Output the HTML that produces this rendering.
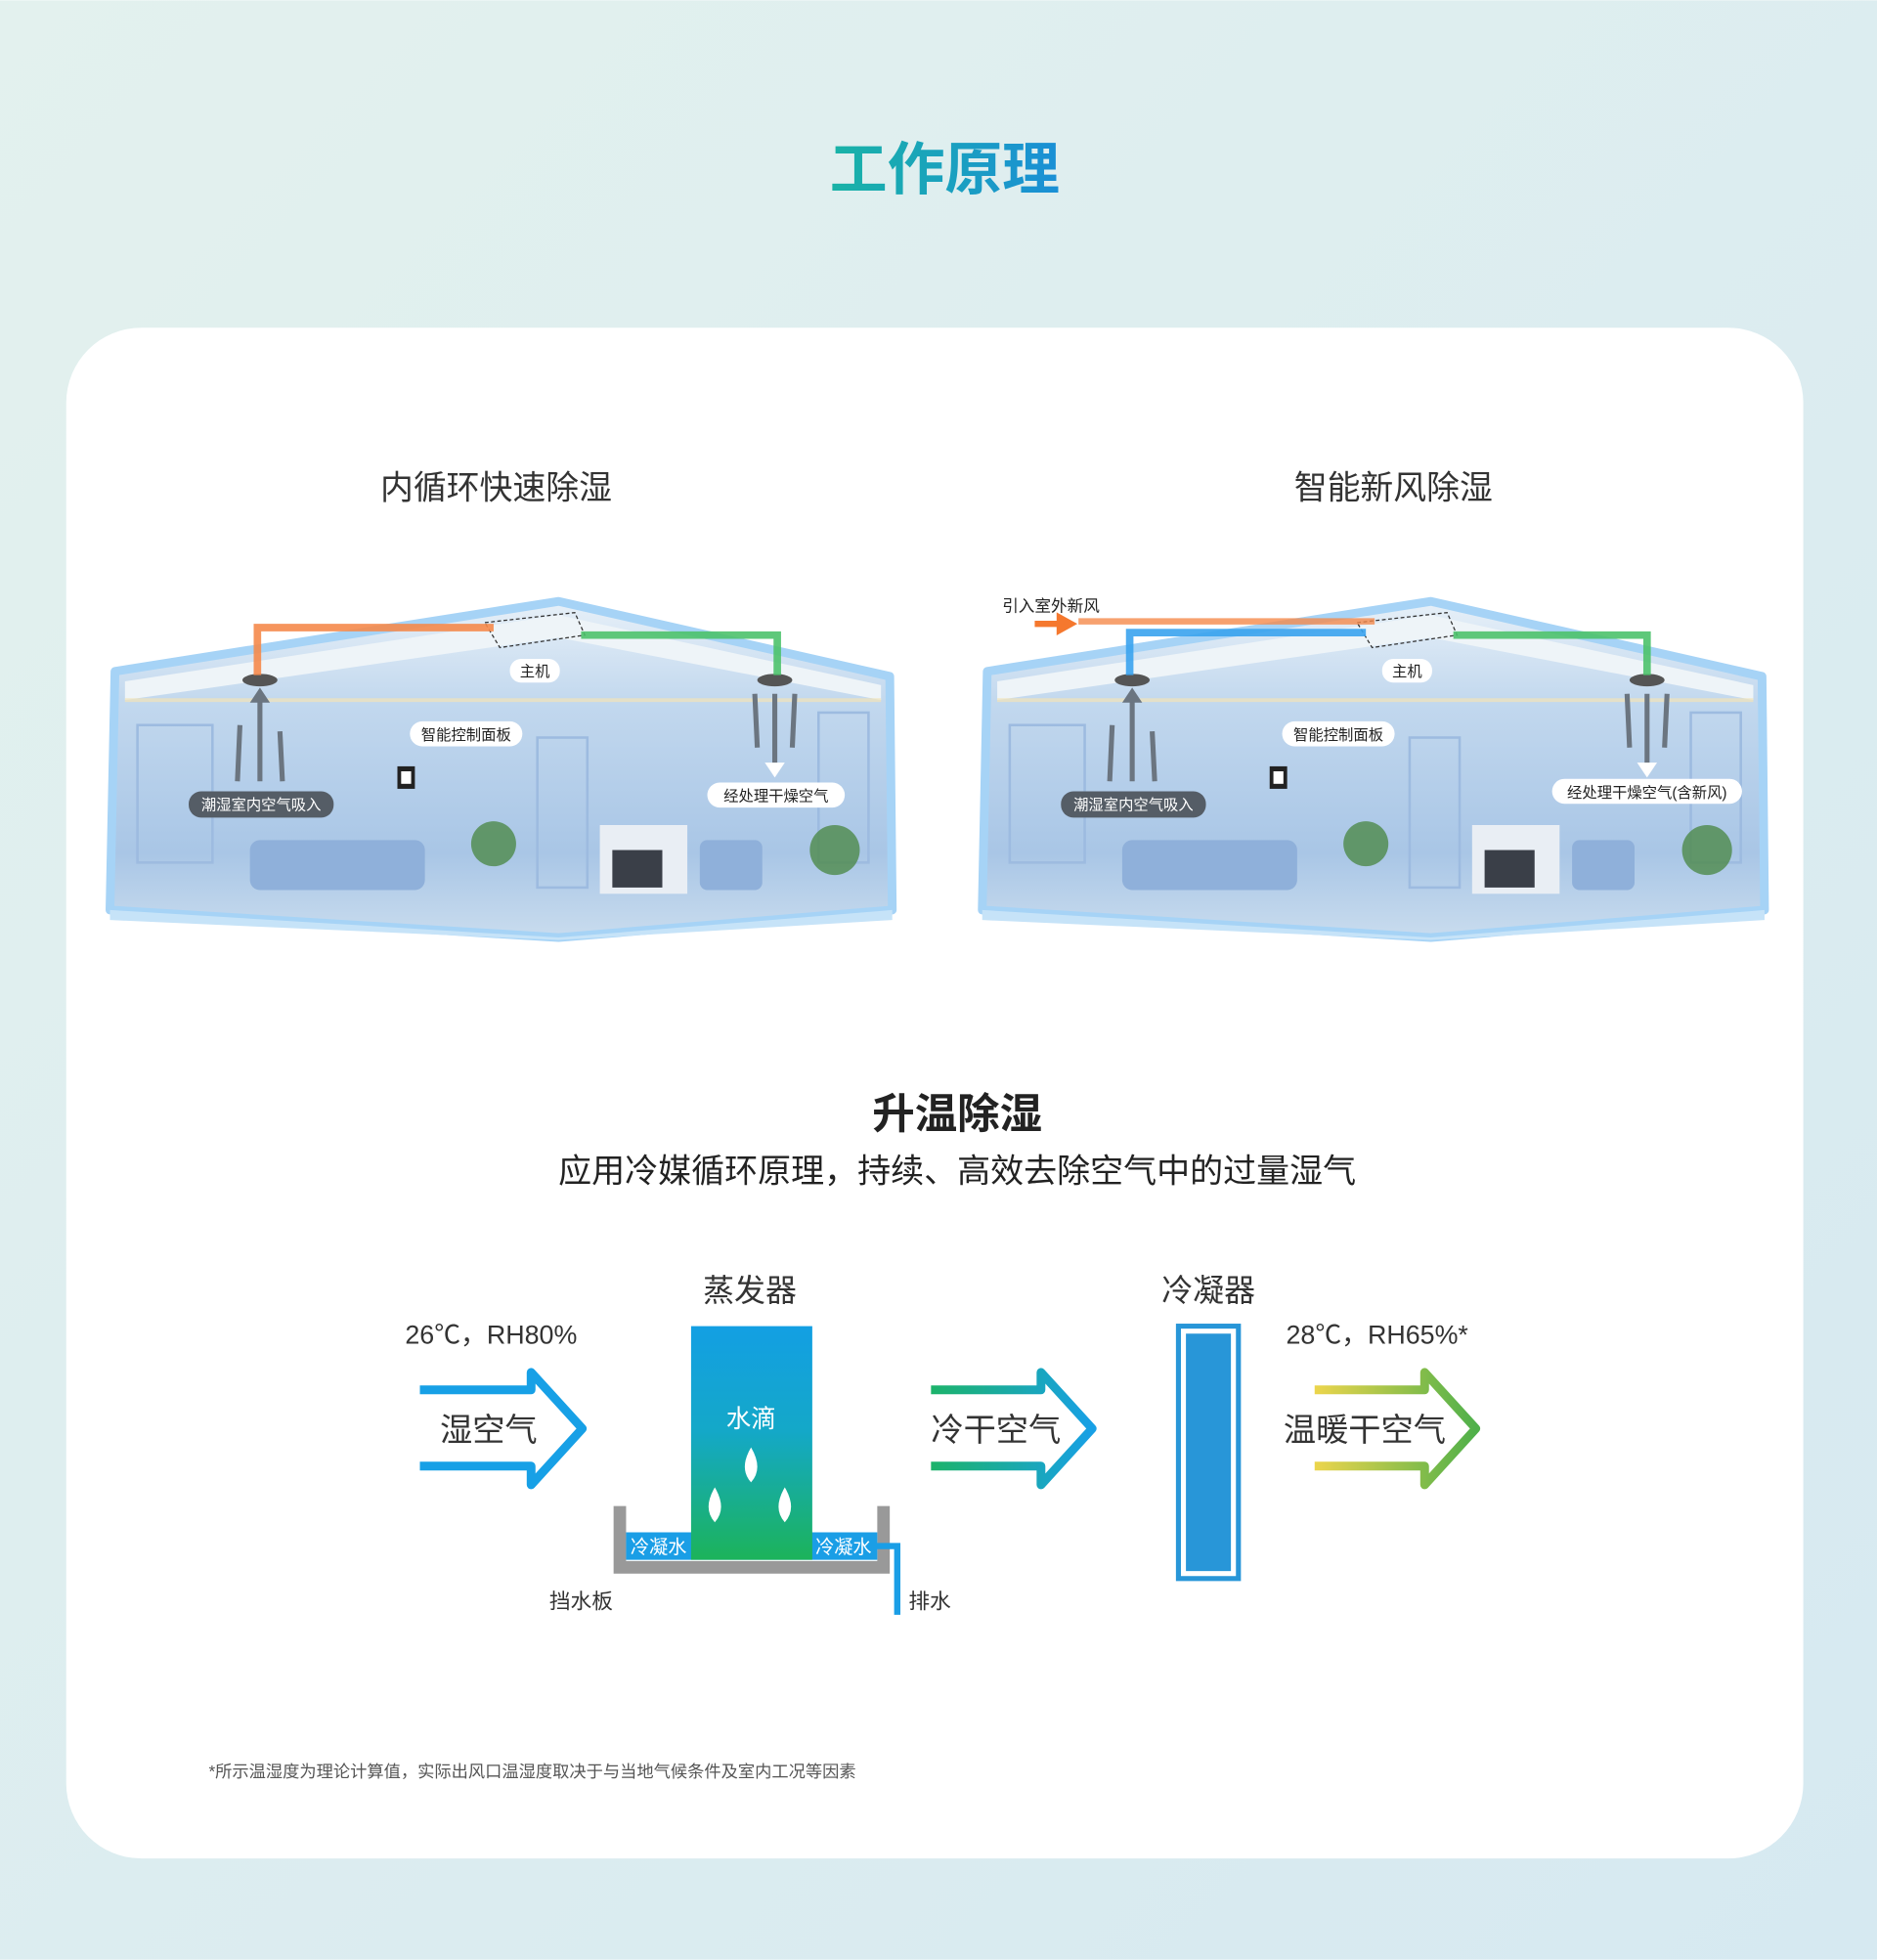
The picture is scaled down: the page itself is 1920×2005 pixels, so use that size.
<!DOCTYPE html>
<html><head><meta charset="utf-8"><style>
html,body{margin:0;padding:0;width:1920px;height:2005px;overflow:hidden}
svg{display:block}
text{font-family:"Liberation Sans","Noto Sans CJK SC",sans-serif}
</style></head><body>
<svg width="1920" height="2005" viewBox="0 0 1502 1568" xmlns="http://www.w3.org/2000/svg">
<defs>
<linearGradient id="bg" x1="0" y1="0" x2="1" y2="1"><stop offset="0" stop-color="#e3f1ee"/><stop offset="1" stop-color="#d6e9f1"/></linearGradient>
<linearGradient id="ttl" x1="0" x2="1"><stop offset="0" stop-color="#19b3a6"/><stop offset="1" stop-color="#1a8fd6"/></linearGradient>
<linearGradient id="evap" x1="0" y1="0" x2="0" y2="1"><stop offset="0" stop-color="#139fe3"/><stop offset="0.45" stop-color="#14a8c8"/><stop offset="1" stop-color="#1cb35a"/></linearGradient>
<linearGradient id="a2" x1="0" x2="1"><stop offset="0" stop-color="#1cb36a"/><stop offset="1" stop-color="#18a0e6"/></linearGradient>
<linearGradient id="a3" x1="0" x2="1"><stop offset="0" stop-color="#ecd54c"/><stop offset="1" stop-color="#4fb04a"/></linearGradient>
<linearGradient id="room" x1="0" y1="0" x2="0" y2="1"><stop offset="0" stop-color="#e7f0f8"/><stop offset="0.3" stop-color="#c2d8ee"/><stop offset="0.75" stop-color="#a9c6e6"/><stop offset="1" stop-color="#c9dcee"/></linearGradient>
<g id="roomg">
 <polygon points="92,537 447,481 712,541 714,728 447,750 88,728" fill="url(#room)" stroke="#a6d3f6" stroke-width="7" stroke-linejoin="round"/>
 <polygon points="100,545 447,492 705,548 705,560 447,510 100,560" fill="#eef4f8"/>
 <line x1="100" y1="560" x2="705" y2="560" stroke="#f3e4b8" stroke-width="3" opacity="0.7"/>
 <rect x="110" y="580" width="60" height="110" fill="none" stroke="#9dbbe0" stroke-width="2"/>
 <rect x="430" y="590" width="40" height="120" fill="none" stroke="#9dbbe0" stroke-width="2"/>
 <rect x="655" y="570" width="40" height="120" fill="none" stroke="#9dbbe0" stroke-width="2"/>
 <rect x="200" y="672" width="140" height="40" rx="8" fill="#8fb0da"/>
 <rect x="480" y="660" width="70" height="55" fill="#e9eef4"/>
 <rect x="490" y="680" width="40" height="30" fill="#3a3f48"/>
 <rect x="560" y="672" width="50" height="40" rx="6" fill="#8fb0da"/>
 <circle cx="668" cy="680" r="20" fill="#4e8a4a" opacity="0.8"/>
 <circle cx="395" cy="675" r="18" fill="#4e8a4a" opacity="0.8"/>
 <polygon points="88,728 447,750 714,728 714,736 447,752 88,736" fill="#c6e3f8"/>
 <ellipse cx="208" cy="544" rx="14" ry="5" fill="#555"/>
 <ellipse cx="620" cy="544" rx="14" ry="5" fill="#555"/>
 <g stroke="#6b7580" stroke-width="4" fill="#6b7580">
  <line x1="208" y1="625" x2="208" y2="560"/><line x1="190" y1="625" x2="192" y2="580"/><line x1="226" y1="625" x2="224" y2="585"/>
  <line x1="620" y1="555" x2="620" y2="612"/><line x1="604" y1="555" x2="606" y2="598"/><line x1="636" y1="555" x2="634" y2="598"/>
 </g>
 <polygon points="200,562 208,550 216,562" fill="#6b7580"/><polygon points="612,610 620,622 628,610" fill="#fff"/>
 <rect x="318" y="613" width="14" height="18" fill="#222"/><rect x="321" y="617" width="8" height="10" fill="#fff"/>
 <polygon points="388,498 460,490 468,508 400,518" fill="none" stroke="#333" stroke-dasharray="3,2"/>
 <rect x="408" y="527" width="40" height="19" rx="9" fill="#fff"/>
 <text x="428" y="541" font-size="12" text-anchor="middle" fill="#222">主机</text>
 <rect x="328" y="577" width="90" height="20" rx="10" fill="#fff"/>
 <text x="373" y="592" font-size="12" text-anchor="middle" fill="#222">智能控制面板</text>
 <rect x="151" y="633" width="116" height="21" rx="10" fill="#555d66"/>
 <text x="209" y="648" font-size="12" text-anchor="middle" fill="#fff">潮湿室内空气吸入</text>
</g>
</defs>
<rect width="1502" height="1568" fill="url(#bg)"/>
<text x="756" y="151" font-size="46" font-weight="bold" text-anchor="middle" fill="url(#ttl)">工作原理</text>
<rect x="53" y="262" width="1390" height="1225" rx="60" fill="#fff"/>
<text x="397" y="399" font-size="26.5" text-anchor="middle" fill="#333">内循环快速除湿</text>
<text x="1115" y="399" font-size="26.5" text-anchor="middle" fill="#333">智能新风除湿</text>

<use href="#roomg"/>
<path d="M206,540 V502 H395" fill="none" stroke="#f58a4b" stroke-width="6" opacity="0.9"/>
<path d="M465,508 H622 V540" fill="none" stroke="#4cc26b" stroke-width="6" opacity="0.9"/>
<rect x="566" y="626" width="110" height="20" rx="10" fill="#fff"/>
<text x="621" y="641" font-size="12" text-anchor="middle" fill="#222">经处理干燥空气</text>

<g transform="translate(698,0)"><use href="#roomg"/></g>
<path d="M904,540 V506 H1093" fill="none" stroke="#3aa3ee" stroke-width="6" opacity="0.9"/>
<path d="M863,497 H1100" fill="none" stroke="#f58a4b" stroke-width="5" opacity="0.8"/>
<path d="M1163,508 H1318 V540" fill="none" stroke="#4cc26b" stroke-width="6" opacity="0.9"/>
<path d="M828,499 H848 V494 L857,499 L848,504 V499" fill="#f5782e" stroke="#f5782e" stroke-width="5"/>
<text x="802" y="489" font-size="13" fill="#222">引入室外新风</text>
<rect x="1242" y="623" width="152" height="20" rx="10" fill="#fff"/>
<text x="1318" y="638" font-size="12" text-anchor="middle" fill="#222">经处理干燥空气(含新风)</text>

<text x="766" y="903" font-size="34" font-weight="bold" text-anchor="middle" fill="#222">升温除湿</text>
<text x="766" y="946" font-size="26.6" text-anchor="middle" fill="#222">应用冷媒循环原理，持续、高效去除空气中的过量湿气</text>

<text x="600" y="1041" font-size="25" text-anchor="middle" fill="#333">蒸发器</text>
<text x="967" y="1041" font-size="25" text-anchor="middle" fill="#333">冷凝器</text>
<text x="393" y="1075" font-size="21" text-anchor="middle" fill="#333">26℃，RH80%</text>
<text x="1102" y="1075" font-size="21" text-anchor="middle" fill="#333">28℃，RH65%*</text>

<path d="M336,1112 H425 V1098 L466,1143 L425,1188 V1173 H336" fill="none" stroke="#17a0e6" stroke-width="7" stroke-linejoin="round"/>
<text x="391" y="1153" font-size="26" text-anchor="middle" fill="#333">湿空气</text>
<path d="M745,1112 H833 V1098 L874,1143 L833,1188 V1173 H745" fill="none" stroke="url(#a2)" stroke-width="7" stroke-linejoin="round"/>
<text x="797" y="1153" font-size="26" text-anchor="middle" fill="#333">冷干空气</text>
<path d="M1052,1112 H1140 V1098 L1181,1143 L1140,1188 V1173 H1052" fill="none" stroke="url(#a3)" stroke-width="7" stroke-linejoin="round"/>
<text x="1092" y="1153" font-size="26" text-anchor="middle" fill="#333">温暖干空气</text>

<path d="M496,1205 V1254 H707 V1205" fill="none" stroke="#999" stroke-width="10"/>
<rect x="501" y="1226" width="201" height="22" fill="#1a9ee6"/>
<rect x="553" y="1061" width="97" height="187" fill="url(#evap)"/>
<text x="527" y="1243" font-size="15" text-anchor="middle" fill="#fff">冷凝水</text>
<text x="675" y="1243" font-size="15" text-anchor="middle" fill="#fff">冷凝水</text>
<text x="601" y="1142" font-size="20" text-anchor="middle" fill="#fff">水滴</text>
<path d="M601,1158 Q611,1175 601,1186 Q591,1175 601,1158Z M572,1190 Q582,1207 572,1218 Q562,1207 572,1190Z M628,1190 Q638,1207 628,1218 Q618,1207 628,1190Z" fill="#fff"/>
<path d="M700,1237 H718 V1292" fill="none" stroke="#1a9ee6" stroke-width="5"/>
<text x="465" y="1287" font-size="17" text-anchor="middle" fill="#333">挡水板</text>
<text x="744" y="1287" font-size="17" text-anchor="middle" fill="#333">排水</text>

<rect x="943" y="1061" width="48" height="202" fill="#fff" stroke="#2896d8" stroke-width="4"/>
<rect x="949" y="1067" width="36" height="190" fill="#2896d8"/>

<text x="167" y="1422" font-size="13.5" fill="#555">*所示温湿度为理论计算值，实际出风口温湿度取决于与当地气候条件及室内工况等因素</text>
</svg>
</body></html>
